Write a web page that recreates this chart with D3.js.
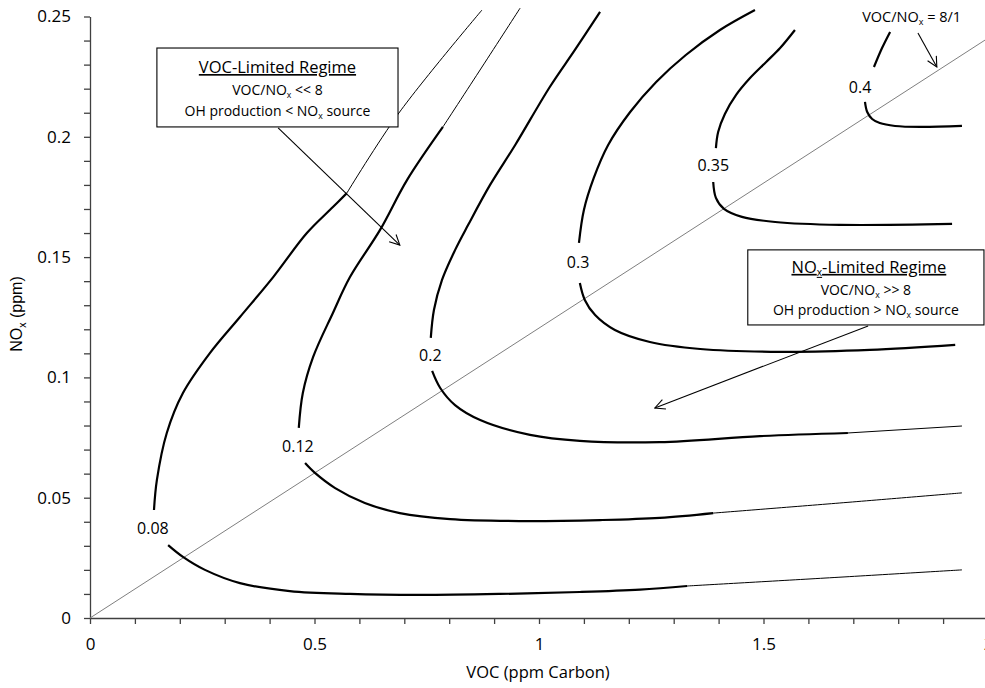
<!DOCTYPE html>
<html>
<head>
<meta charset="utf-8">
<script src="https://cdn.jsdelivr.net/npm/d3@7.9.0/dist/d3.min.js"></script>
<style>
  body { margin: 0; background: #fff; }
  text { font-family: "Open Sans", sans-serif; fill: #000; }
</style>
</head>
<body>
<svg id="chart" width="985" height="688"></svg>
<script>
// isopleth points [VOC ppmC, NOx ppm]
const iso008Upper = [[0.572,0.1766],[0.541,0.1708],[0.483,0.1600],[0.408,0.1417],[0.334,0.1251],[0.267,0.1101],[0.207,0.0935],[0.171,0.0769],[0.149,0.0574],[0.1425,0.0449]];
const iso008UpperExt = [[0.873,0.2527],[0.688,0.2099],[0.572,0.1766]];
const iso008Lower = [[0.174,0.0303],[0.207,0.0254],[0.256,0.0200],[0.334,0.0145],[0.445,0.0112],[0.579,0.0100],[0.735,0.0096],[0.913,0.0100],[1.091,0.0108],[1.225,0.0118],[1.330,0.0133]];
const iso008LowerExt = [[1.330,0.0133],[1.637,0.0166],[1.942,0.0200]];

const iso012Upper = [[0.786,0.2041],[0.706,0.1820],[0.646,0.1613],[0.579,0.1417],[0.541,0.1268],[0.497,0.1085],[0.474,0.0935],[0.465,0.0790]];
const iso012UpperExt = [[0.958,0.2535],[0.873,0.2290],[0.786,0.2041]];
const iso012Lower = [[0.479,0.0644],[0.501,0.0603],[0.546,0.0540],[0.612,0.0478],[0.690,0.0436],[0.802,0.0411],[0.958,0.0403],[1.136,0.0407],[1.269,0.0416],[1.388,0.0436]];
const iso012LowerExt = [[1.388,0.0436],[1.670,0.0478],[1.942,0.0520]];

const iso02Upper = [[1.136,0.2519],[1.080,0.2361],[1.024,0.2207],[0.947,0.1966],[0.891,0.1800],[0.842,0.1633],[0.813,0.1529],[0.784,0.1405],[0.766,0.1280],[0.759,0.1164]];
const iso02Lower = [[0.762,0.1027],[0.780,0.0956],[0.813,0.0885],[0.869,0.0823],[0.980,0.0761],[1.091,0.0736],[1.269,0.0731],[1.492,0.0756],[1.688,0.0769]];
const iso02LowerExt = [[1.688,0.0769],[1.942,0.0798]];

const iso03Upper = [[1.481,0.2527],[1.403,0.2444],[1.327,0.2340],[1.261,0.2228],[1.203,0.2103],[1.154,0.1966],[1.122,0.1829],[1.100,0.1696],[1.089,0.1559]];
const iso03Lower = [[1.091,0.1392],[1.102,0.1322],[1.125,0.1259],[1.169,0.1197],[1.247,0.1147],[1.359,0.1118],[1.537,0.1106],[1.737,0.1114],[1.927,0.1135]];

const iso035Upper = [[1.570,0.2444],[1.537,0.2369],[1.506,0.2311],[1.470,0.2244],[1.439,0.2174],[1.414,0.2095],[1.399,0.2020],[1.394,0.1953]];
const iso035Lower = [[1.388,0.1812],[1.394,0.1746],[1.412,0.1700],[1.452,0.1667],[1.526,0.1646],[1.670,0.1634],[1.920,0.1638]];

const iso04Upper = [[1.782,0.2436],[1.764,0.2369],[1.746,0.2290]];
const iso04Lower = [[1.726,0.2145],[1.731,0.2103],[1.742,0.2074],[1.759,0.2057],[1.793,0.2045],[1.849,0.2041],[1.942,0.2045]];

const isoLevels = ["0.08", "0.12", "0.2", "0.3", "0.35", "0.4"];
const isoLabelAt = [[0.140,0.0374],[0.463,0.0715],[0.758,0.1091],[1.087,0.1476],[1.388,0.1883],[1.715,0.2207]];

// VOC/NOx = 8/1 reference line
const ratioLine = [[0, 0], [2, 0.241]];

const yTicks = d3.range(26).map(i => i / 100);
const xTicks = d3.range(21).map(i => i / 10);

const segments = [
  { pts: iso008Upper, thick: true }, { pts: iso008UpperExt, thick: false },
  { pts: iso008Lower, thick: true }, { pts: iso008LowerExt, thick: false },
  { pts: iso012Upper, thick: true }, { pts: iso012UpperExt, thick: false },
  { pts: iso012Lower, thick: true }, { pts: iso012LowerExt, thick: false },
  { pts: iso02Upper, thick: true }, { pts: iso02Lower, thick: true }, { pts: iso02LowerExt, thick: false },
  { pts: iso03Upper, thick: true }, { pts: iso03Lower, thick: true },
  { pts: iso035Upper, thick: true }, { pts: iso035Lower, thick: true },
  { pts: iso04Upper, thick: true }, { pts: iso04Lower, thick: true },
];

const svg = d3.select("#chart");
const x = d3.scaleLinear().domain([0, 2]).range([90, 988]);
const y = d3.scaleLinear().domain([0, 0.25]).range([618, 16.5]);

const isMajor = (d, step) => Math.abs(Math.round(d / step) * step - d) < 1e-9;

// axes
const yAxis = d3.axisLeft(y).tickValues(yTicks).tickSize(6).tickSizeOuter(0).tickPadding(13)
  .tickFormat(d => isMajor(d, 0.05) ? d3.format("~g")(d) : "");
const xAxis = d3.axisBottom(x).tickValues(xTicks).tickSize(6).tickSizeOuter(0).tickPadding(14)
  .tickFormat(d => isMajor(d, 0.5) ? d3.format("~g")(d) : "");

svg.append("g").attr("transform", `translate(${x(0)},0)`).call(yAxis)
  .call(g => g.selectAll("path,line").attr("stroke", "#404040").attr("stroke-width", 1.3))
  .call(g => g.selectAll("text").attr("font-size", 17).attr("font-family", "Open Sans").attr("fill", "#000"));
svg.append("g").attr("transform", `translate(0,${y(0)})`).call(xAxis)
  .call(g => g.selectAll("path,line").attr("stroke", "#404040").attr("stroke-width", 1.3))
  .call(g => g.selectAll("text").attr("font-size", 17).attr("font-family", "Open Sans").attr("fill", "#000"));

// axis titles
svg.append("text").attr("x", 538).attr("y", 678).attr("text-anchor", "middle")
  .attr("font-size", 16.5).text("VOC (ppm Carbon)");
const yt = svg.append("text").attr("transform", "translate(22,314) rotate(-90)")
  .attr("text-anchor", "middle").attr("font-size", 16)
  .style("font-family", "'Liberation Sans', Arial, sans-serif");
yt.append("tspan").text("NO");
yt.append("tspan").attr("font-size", 10.5).attr("dy", 4).text("x");
yt.append("tspan").attr("dy", -4).text(" (ppm)");

// ratio line
const line = d3.line().x(d => x(d[0])).y(d => y(d[1]));
svg.append("path").datum(ratioLine).attr("d", line)
  .attr("fill", "none").attr("stroke", "#7f7f7f").attr("stroke-width", 1);

// isopleths
const smooth = d3.line().x(d => x(d[0])).y(d => y(d[1])).curve(d3.curveCatmullRom.alpha(0.5));
svg.append("g").selectAll("path").data(segments).join("path")
  .attr("d", d => smooth(d.pts))
  .attr("fill", "none").attr("stroke", "#000")
  .attr("stroke-width", d => d.thick ? 2.2 : 1);

svg.append("g").selectAll("text").data(isoLevels).join("text")
  .attr("x", (d, i) => x(isoLabelAt[i][0]))
  .attr("y", (d, i) => y(isoLabelAt[i][1]))
  .attr("dy", "0.35em").attr("text-anchor", "middle").attr("font-size", 16)
  .text(d => d);

// arrow marker
svg.append("defs").append("marker").attr("id", "arr")
  .attr("viewBox", "0 0 12 12").attr("refX", 11).attr("refY", 6)
  .attr("markerWidth", 12).attr("markerHeight", 12).attr("markerUnits", "userSpaceOnUse")
  .attr("orient", "auto")
  .append("path").attr("d", "M1,1 L11,6 L1,11").attr("fill", "none").attr("stroke", "#000").attr("stroke-width", 1.1);

function arrow(from, to) {
  svg.append("line")
    .attr("x1", x(from[0])).attr("y1", y(from[1]))
    .attr("x2", x(to[0])).attr("y2", y(to[1]))
    .attr("stroke", "#000").attr("stroke-width", 1.1).attr("marker-end", "url(#arr)");
}

function noxText(sel, pre, post) {
  sel.append("tspan").text(pre);
  sel.append("tspan").attr("font-size", "0.62em").attr("dy", 3).text("x");
  sel.append("tspan").attr("dy", -3).text(post);
}

// VOC-limited box
const vb = [[0.149, 0.2369], [0.686, 0.2041]];
svg.append("rect").attr("x", x(vb[0][0])).attr("y", y(vb[0][1]))
  .attr("width", x(vb[1][0]) - x(vb[0][0])).attr("height", y(vb[1][1]) - y(vb[0][1]))
  .attr("fill", "#fff").attr("stroke", "#000").attr("stroke-width", 1.1);
const vcx = (x(vb[0][0]) + x(vb[1][0])) / 2, vtop = y(vb[0][1]);
svg.append("text").attr("x", vcx).attr("y", vtop + 25).attr("text-anchor", "middle")
  .attr("font-size", 16.5).attr("text-decoration", "underline").text("VOC-Limited Regime");
noxText(svg.append("text").attr("x", vcx).attr("y", vtop + 47).attr("text-anchor", "middle").attr("font-size", 14), "VOC/NO", " << 8");
noxText(svg.append("text").attr("x", vcx).attr("y", vtop + 68).attr("text-anchor", "middle").attr("font-size", 14), "OH production < NO", " source");
arrow([0.419, 0.2037], [0.690, 0.1550]);

// NOx-limited box
const nb = [[1.465, 0.1530], [1.991, 0.1218]];
svg.append("rect").attr("x", x(nb[0][0])).attr("y", y(nb[0][1]))
  .attr("width", x(nb[1][0]) - x(nb[0][0])).attr("height", y(nb[1][1]) - y(nb[0][1]))
  .attr("fill", "#fff").attr("stroke", "#000").attr("stroke-width", 1.1);
const ncx = (x(nb[0][0]) + x(nb[1][0])) / 2, ntop = y(nb[0][1]);
const nt = svg.append("text").attr("x", ncx + 3).attr("y", ntop + 23).attr("text-anchor", "middle")
  .attr("font-size", 16.5).attr("text-decoration", "underline");
noxText(nt, "NO", "-Limited Regime");
noxText(svg.append("text").attr("x", ncx).attr("y", ntop + 45).attr("text-anchor", "middle").attr("font-size", 14), "VOC/NO", " >> 8");
noxText(svg.append("text").attr("x", ncx).attr("y", ntop + 65).attr("text-anchor", "middle").attr("font-size", 14), "OH production > NO", " source");
arrow([1.733, 0.1214], [1.258, 0.0873]);

// 8/1 label
noxText(svg.append("text").attr("x", x(1.83)).attr("y", y(0.2498) + 5).attr("text-anchor", "middle").attr("font-size", 14.5), "VOC/NO", " = 8/1");
arrow([1.844, 0.2431], [1.886, 0.2290]);
</script>
</body>
</html>
